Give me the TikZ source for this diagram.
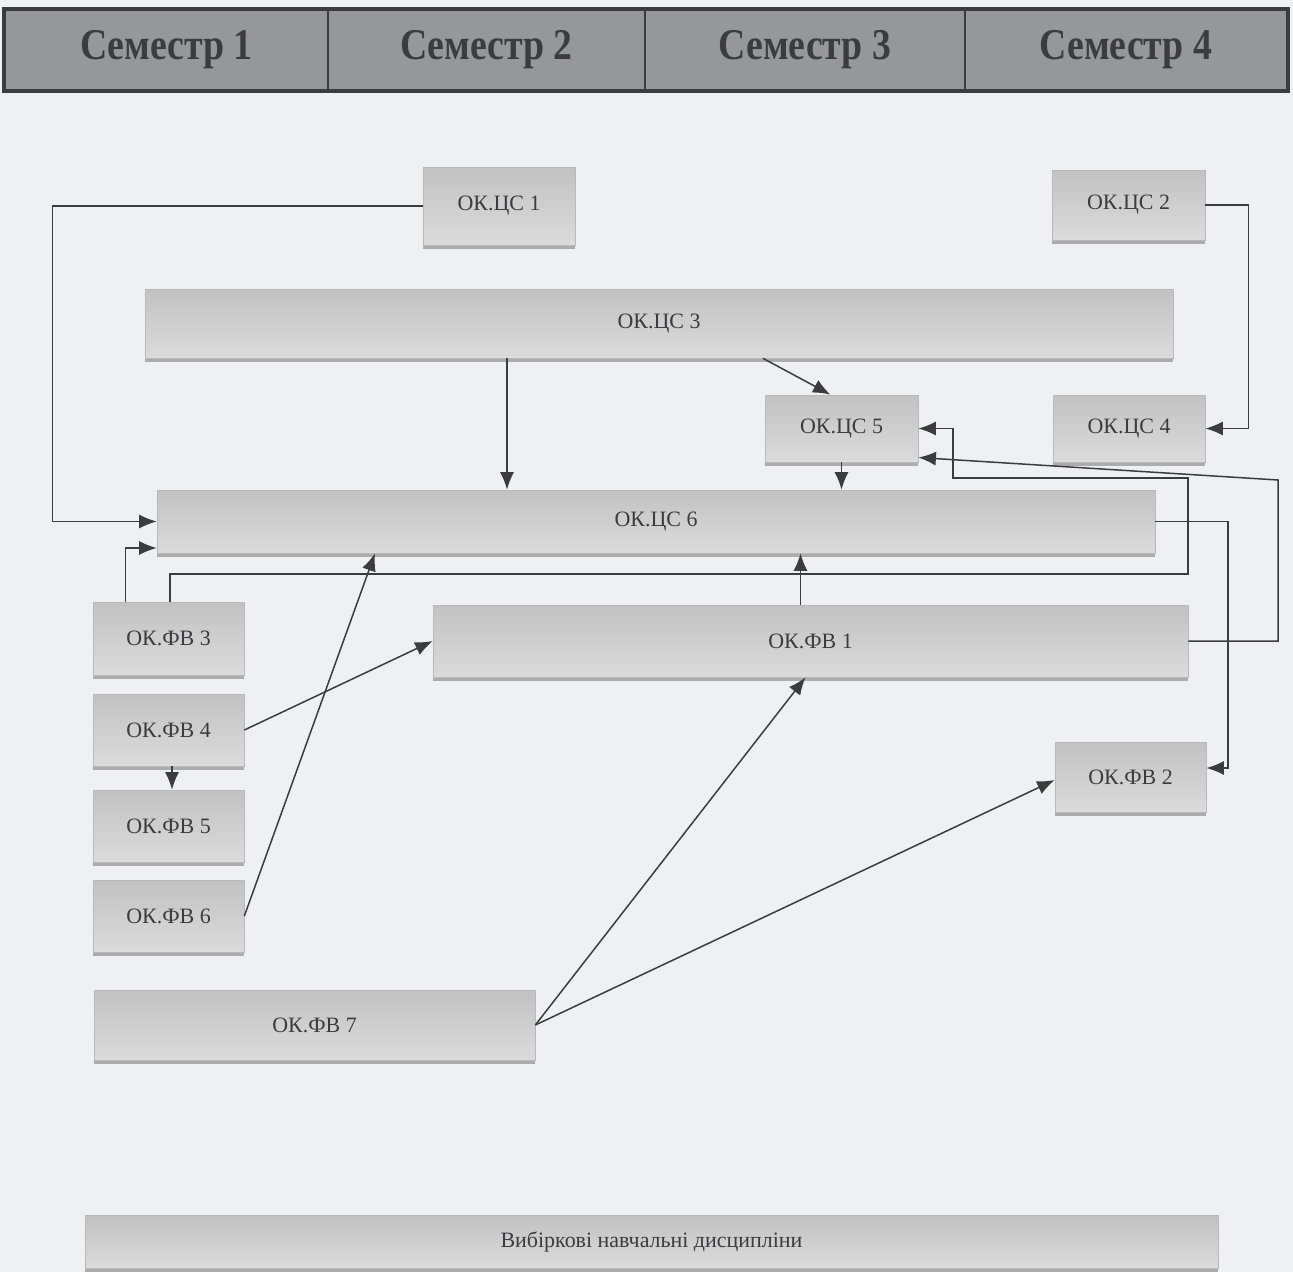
\documentclass[tikz,border=0pt]{standalone}
\usepackage{fontspec}
\setmainfont{Liberation Serif}
\newfontfamily\semfont[FakeStretch=0.86]{Liberation Serif}
\usepackage{tikz}
\usetikzlibrary{arrows.meta,calc,shadows}
\definecolor{paper}{RGB}{238,240,244}
\definecolor{headfill}{RGB}{150,151,154}
\definecolor{ink}{RGB}{60,60,62}
\begin{document}
\begin{tikzpicture}[x=0.02cm,y=-0.02cm,
                    box/.style={draw=gray!55,top color=gray!48,middle color=gray!8,bottom color=gray!28,
                                drop shadow={shadow xshift=0pt,shadow yshift=-2pt,fill=gray!65,opacity=1},
                                text=ink,font=\fontsize{12.5}{14}\selectfont,inner sep=0pt},
                    sem/.style={draw=ink,line width=1pt,fill=headfill,text=ink,minimum height=1.6cm,
                                font=\semfont\fontsize{25}{28}\selectfont\bfseries,inner sep=0pt},
                    arr/.style={draw=ink,line width=0.85pt,-{Latex[length=10pt,width=8pt]}}]
                    \fill[paper] (0,0) rectangle (1293,1272);
                    \useasboundingbox (0,0) rectangle (1293,1272);
                    \node[sem,minimum width=6.46cm] (sem1) at (166.5,50) {Семестр 1};
                    \node[sem,minimum width=6.34cm] (sem2) at (486.5,50) {Семестр 2};
                    \node[sem,minimum width=6.40cm] (sem3) at (805,50) {Семестр 3};
                    \node[sem,minimum width=6.44cm] (sem4) at (1126,50) {Семестр 4};
                    \draw[ink,line width=2pt] (sem1.north west) rectangle (sem4.south east);
                    \node[box,minimum width=3.04cm,minimum height=1.56cm] (cs1) at (499,206) {ОК.ЦС 1};
                    \node[box,minimum width=3.06cm,minimum height=1.40cm] (cs2) at (1128.5,205) {ОК.ЦС 2};
                    \node[box,minimum width=20.56cm,minimum height=1.38cm] (cs3) at (659,323.5) {ОК.ЦС 3};
                    \node[box,minimum width=3.06cm,minimum height=1.34cm] (cs5) at (841.5,428.5) {ОК.ЦС 5};
                    \node[box,minimum width=3.04cm,minimum height=1.34cm] (cs4) at (1129,428.5) {ОК.ЦС 4};
                    \node[box,minimum width=19.96cm,minimum height=1.26cm] (cs6) at (656,521.5) {ОК.ЦС 6};
                    \node[box,minimum width=3.02cm,minimum height=1.46cm] (fv3) at (168.5,638.5) {ОК.ФВ 3};
                    \node[box,minimum width=15.10cm,minimum height=1.44cm] (fv1) at (810.5,641) {ОК.ФВ 1};
                    \node[box,minimum width=3.02cm,minimum height=1.44cm] (fv4) at (168.5,730) {ОК.ФВ 4};
                    \node[box,minimum width=3.02cm,minimum height=1.44cm] (fv5) at (168.5,826) {ОК.ФВ 5};
                    \node[box,minimum width=3.02cm,minimum height=1.44cm] (fv6) at (168.5,916) {ОК.ФВ 6};
                    \node[box,minimum width=3.02cm,minimum height=1.40cm] (fv2) at (1130.5,777) {ОК.ФВ 2};
                    \node[box,minimum width=8.82cm,minimum height=1.40cm] (fv7) at (314.5,1025) {ОК.ФВ 7};
                    \node[box,minimum width=22.66cm,minimum height=1.06cm] (vyb) at (651.5,1241.5) {Вибіркові навчальні дисципліни};
                    \draw[arr] (cs1.west) -- ++(-370,0) |- (cs6.west);
                    \draw[arr] (cs2.east) -- ++(43,0) |- (cs4.east);
                    \draw[arr] ($(cs3.south)+(-152,0)$) -- ($(cs6.north)+(-149,0)$);
                    \draw[arr] ($(cs3.south)+(104,0)$) -- ($(cs5.north)+(-11,0)$);
                    \draw[arr] (cs5.south) -- (cs5.south |- cs6.north);
                    \draw[arr] ($(fv3.north)+(-43,0)$) |- ($(cs6.west)+(0,26.5)$);
                    \draw[arr] ($(fv3.north)+(1.5,0)$) |- (1188,574) |- (953,478) |- (cs5.east);
                    \draw[arr] (fv1.east) -| (1278,480) -- ($(cs5.east)+(0,29)$);
                    \draw[arr] (cs6.east) -| (1228,768) -- ($(fv2.east)+(0,-9)$);
                    \draw[arr] ($(fv1.north)+(-10,0)$) -- ($(cs6.south)+(144.5,0)$);
                    \draw[arr] (fv4.east) -- (fv1.west);
                    \draw[arr] ($(fv4.south)+(3.5,0)$) -- ($(fv5.north)+(3.5,0)$);
                    \draw[arr] (fv6.east) -- ($(cs6.south)+(-281,0)$);
                    \draw[arr] (fv7.east) -- ($(fv1.south)+(-5,0)$);
                    \draw[arr] (fv7.east) -- ($(fv2.west)+(0,3)$);
                \end{tikzpicture}
\end{document}
